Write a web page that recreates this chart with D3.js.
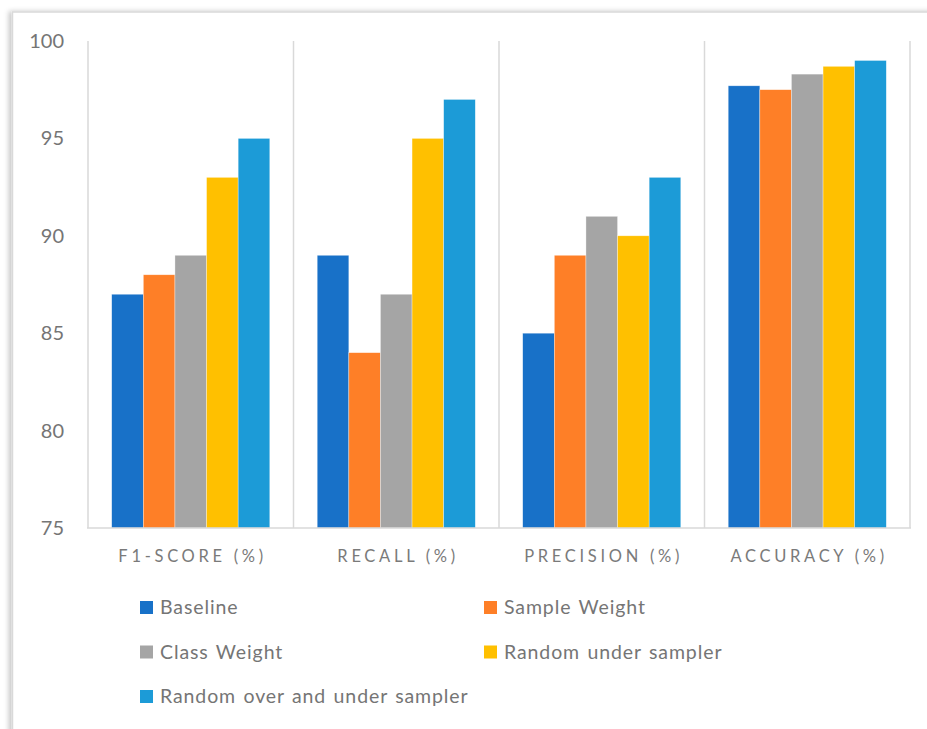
<!DOCTYPE html>
<html>
<head>
<meta charset="utf-8">
<script src="https://cdn.jsdelivr.net/npm/d3@7"></script>
<style>
  html, body { margin: 0; padding: 0; background: #fff; }
  svg { display: block; }
  text { font-family: Lato, "Open Sans", sans-serif; }
</style>
</head>
<body>
<svg id="chart" width="927" height="729"></svg>
<script>
// Metric groups along the x axis
const categories = ["F1-SCORE (%)", "RECALL (%)", "PRECISION (%)", "ACCURACY (%)"];

// One array per resampling strategy, in category order
const seriesNames = ["Baseline", "Sample Weight", "Class Weight", "Random under sampler", "Random over and under sampler"];
const baseline        = [87, 89, 85, 97.7];
const sampleWeight    = [88, 84, 89, 97.5];
const classWeight     = [89, 87, 91, 98.3];
const randomUnder     = [93, 95, 90, 98.7];
const randomOverUnder = [95, 97, 93, 99.0];
const seriesValues = [baseline, sampleWeight, classWeight, randomUnder, randomOverUnder];
const seriesColors = ["#1871C8", "#FE7F27", "#A5A5A5", "#FFC000", "#1C9BD7"];

// Value axis
const yTicks = [75, 80, 85, 90, 95, 100];

const svg = d3.select("#chart");

// Card frame with a soft shadow on the left
const defs = svg.append("defs");
const shadow = defs.append("filter").attr("id", "cardShadow")
  .attr("x", "-5%").attr("y", "-5%").attr("width", "110%").attr("height", "110%");
shadow.append("feDropShadow")
  .attr("dx", -3).attr("dy", 0).attr("stdDeviation", 2.5)
  .attr("flood-color", "#000").attr("flood-opacity", 0.22);

svg.append("rect")
  .attr("x", 12.5).attr("y", 12)
  .attr("width", 940).attr("height", 740)
  .attr("fill", "#fff")
  .attr("stroke", "#d9d9d9").attr("stroke-width", 1.5)
  .attr("filter", "url(#cardShadow)");

const plot = { left: 88, right: 910, top: 41, bottom: 528 };

const x0 = d3.scaleBand().domain(categories).range([plot.left, plot.right]).padding(0);
const x1 = d3.scaleBand().domain(seriesNames).range([0, x0.bandwidth()])
  .paddingInner(0).paddingOuter(0.75);
const y = d3.scaleLinear().domain([75, 100]).range([plot.bottom, plot.top]);

// Vertical separators between metric groups
const sepX = categories.map(c => x0(c)).concat([x0.range()[1]]);
svg.append("g").selectAll("line").data(sepX).join("line")
  .attr("x1", d => d).attr("x2", d => d)
  .attr("y1", plot.top).attr("y2", plot.bottom)
  .attr("stroke", "#d9d9d9").attr("stroke-width", 1.5);

// Bars
const groups = svg.append("g").selectAll("g").data(categories).join("g")
  .attr("transform", c => `translate(${x0(c)},0)`);
groups.selectAll("rect")
  .data((c, ci) => seriesNames.map((s, si) => ({ s, si, v: seriesValues[si][ci] })))
  .join("rect")
  .attr("x", d => x1(d.s))
  .attr("width", x1.bandwidth())
  .attr("y", d => y(d.v))
  .attr("height", d => y(75) - y(d.v))
  .attr("fill", d => seriesColors[d.si])
  .attr("stroke", "#fff").attr("stroke-width", 0.6).attr("stroke-opacity", 0.55);

// Category axis baseline
svg.append("line")
  .attr("x1", plot.left - 1).attr("x2", plot.right + 1)
  .attr("y1", plot.bottom).attr("y2", plot.bottom)
  .attr("stroke", "#d9d9d9").attr("stroke-width", 1.5);

// Value axis labels
const yAxis = d3.axisLeft(y).tickValues(yTicks).tickSize(0).tickPadding(24);
const yg = svg.append("g").attr("transform", `translate(${plot.left},0)`).call(yAxis);
yg.select(".domain").remove();
yg.selectAll("text")
  .attr("font-family", "Lato, sans-serif")
  .attr("font-size", 20).attr("fill", "#757575");

// Category labels, letter-spaced
const spacing = 3.7;
const xAxis = d3.axisBottom(x0).tickSize(0).tickPadding(0);
const xg = svg.append("g").attr("transform", `translate(${spacing / 2},${plot.bottom})`).call(xAxis);
xg.select(".domain").remove();
xg.selectAll("text")
  .attr("dy", null).attr("y", 34)
  .attr("font-family", "Lato, sans-serif")
  .attr("font-size", 16.5).attr("fill", "#7a7a7a")
  .style("letter-spacing", spacing + "px");

// Legend
const legendPos = [
  { x: 140, y: 607.5 }, { x: 484, y: 607.5 },
  { x: 140, y: 652 },   { x: 484, y: 652 },
  { x: 140, y: 696.5 }
];
const legend = svg.append("g").selectAll("g").data(seriesNames).join("g")
  .attr("transform", (d, i) => `translate(${legendPos[i].x},${legendPos[i].y})`);
legend.append("rect")
  .attr("x", 0).attr("y", -6.5).attr("width", 13).attr("height", 13)
  .attr("fill", (d, i) => seriesColors[i]);
legend.append("text")
  .attr("x", 20).attr("y", 0).attr("dy", "0.35em")
  .attr("font-size", 19.5).attr("fill", "#757575")
  .style("letter-spacing", "0.9px")
  .style("word-spacing", "1.5px")
  .text(d => d);
</script>
</body>
</html>
